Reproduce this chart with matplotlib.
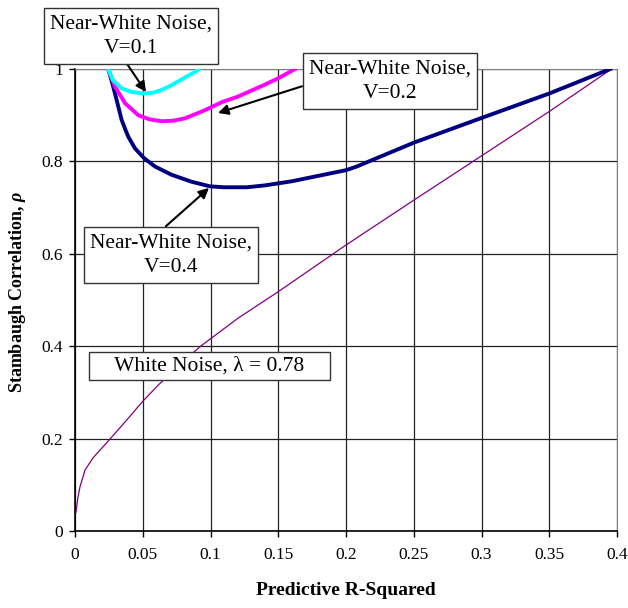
import numpy as np
import matplotlib.pyplot as plt

# Dados
wn_x = [0.0007, 0.002, 0.0037, 0.0074, 0.0135, 0.02, 0.0258, 0.0381, 0.0504, 0.0615, 0.075, 0.0923,
        0.12, 0.15, 0.1906, 0.2, 0.25, 0.3, 0.35, 0.396]
wn_y = [0.04, 0.07, 0.096, 0.132, 0.159, 0.18, 0.199, 0.24, 0.282, 0.316, 0.354, 0.399,
        0.46, 0.518, 0.6, 0.619, 0.716, 0.812, 0.908, 1.0]

v1_x = [0.0245, 0.028, 0.0344, 0.042, 0.0517, 0.058, 0.064, 0.07, 0.076, 0.082, 0.0886, 0.0915]
v1_y = [1.0, 0.976, 0.958, 0.95, 0.947, 0.949, 0.955, 0.963, 0.973, 0.983, 0.994, 1.0]

v2_x = [0.0245, 0.0295, 0.0369, 0.0467, 0.055, 0.064, 0.072, 0.081, 0.096, 0.109, 0.12, 0.13, 0.14, 0.15, 0.1625]
v2_y = [1.0, 0.962, 0.926, 0.90, 0.891, 0.887, 0.888, 0.893, 0.911, 0.929, 0.94, 0.953, 0.966, 0.98, 1.0]

v4_x = [0.0245, 0.027, 0.0295, 0.032, 0.0344, 0.037, 0.0394, 0.0443, 0.051, 0.059, 0.0713, 0.086, 0.0996,
        0.11, 0.1267, 0.14, 0.15, 0.16, 0.17, 0.18, 0.19, 0.2, 0.208, 0.25, 0.3, 0.35, 0.395]
v4_y = [1.0, 0.975, 0.947, 0.918, 0.89, 0.87, 0.853, 0.828, 0.807, 0.789, 0.771, 0.756, 0.746,
        0.744, 0.744, 0.748, 0.7525, 0.757, 0.763, 0.769, 0.775, 0.781, 0.789, 0.8405, 0.894, 0.947, 1.0]

x_ticks = [0, 0.05, 0.1, 0.15, 0.2, 0.25, 0.3, 0.35, 0.4]
x_labels = ['0', '0.05', '0.1', '0.15', '0.2', '0.25', '0.3', '0.35', '0.4']
y_ticks = [0, 0.2, 0.4, 0.6, 0.8, 1.0]
y_labels = ['0', '0.2', '0.4', '0.6', '0.8', '1']

plt.rcParams['font.family'] = ['Liberation Serif', 'DejaVu Serif']
plt.rcParams['mathtext.fontset'] = 'custom'
plt.rcParams['mathtext.rm'] = 'Liberation Serif'
plt.rcParams['mathtext.it'] = 'Liberation Serif:italic'
plt.rcParams['mathtext.bf'] = 'Liberation Serif:italic:bold'

fig = plt.figure(figsize=(6.28, 6.08), dpi=100)
ax = fig.add_axes([75 / 628, 77 / 608, 542 / 628, 462 / 608])

# Curvas
ax.plot(wn_x, wn_y, color='#800080', lw=0.9, zorder=3)
ax.plot(v4_x, v4_y, color='#000080', lw=2.8, zorder=4, solid_joinstyle='round')
ax.plot(v2_x, v2_y, color='#FF00FF', lw=2.8, zorder=4, solid_joinstyle='round')
ax.plot(v1_x, v1_y, color='#00FFFF', lw=2.8, zorder=4, solid_joinstyle='round')

ax.set_xlim(0, 0.4)
ax.set_ylim(0, 1)
ax.set_xticks(x_ticks)
ax.set_xticklabels(x_labels)
ax.set_yticks(y_ticks)
ax.set_yticklabels(y_labels)
ax.tick_params(axis='both', direction='out', length=4.5, width=1, labelsize=12.5, colors='black')
ax.tick_params(axis='x', pad=7)
ax.tick_params(axis='y', pad=4)

ax.grid(True, color='#222222', lw=0.9)
ax.set_axisbelow(True)
for s in ['top', 'right']:
    ax.spines[s].set_color('#808080')
for s in ['left', 'bottom']:
    ax.spines[s].set_color('black')
    ax.spines[s].set_linewidth(1.2)

ax.set_xlabel('Predictive R-Squared', fontsize=14, fontweight='bold')
ax.xaxis.set_label_coords(0.5, -0.11)
ax.set_ylabel(r'Stambaugh Correlation, $\mathbf{\rho}$', fontsize=13, fontweight='bold')
ax.yaxis.set_label_coords(-0.087, 0.517)


def px(x, y):
    # pixels da figura -> coordenadas dos dados
    return ((x - 75) / 1355.0, (531 - y) / 462.0)


box = dict(boxstyle='square,pad=0.3', fc='white', ec='#333333', lw=1)
arrow = dict(arrowstyle='-|>', color='black', lw=1.5, mutation_scale=15, shrinkA=0, shrinkB=0)

ax.annotate('Near-White Noise,\nV=0.1', xy=px(146, 92), xytext=px(131, 36), ha='center', va='center',
            fontsize=15.5, linespacing=1.4, bbox=box, annotation_clip=False, zorder=6,
            arrowprops=dict(arrow, relpos=(0.45, 0.0)))
ax.annotate('Near-White Noise,\nV=0.2', xy=px(218, 113), xytext=px(390, 81), ha='center', va='center',
            fontsize=15.5, linespacing=1.4, bbox=box, annotation_clip=False, zorder=6,
            arrowprops=dict(arrow, relpos=(0.0, 0.43)))
ax.annotate('Near-White Noise,\nV=0.4', xy=px(209, 188), xytext=px(171, 255), ha='center', va='center',
            fontsize=15.5, linespacing=1.4, bbox=box, annotation_clip=False, zorder=6,
            arrowprops=dict(arrow, relpos=(0.42, 1.0)))
ax.text(*px(209.5, 366), '    White Noise, λ = 0.78    ', ha='center', va='center', fontsize=15.5,
        bbox=dict(box, boxstyle='square,pad=0.2'), zorder=6)

fig.savefig('out.png', dpi=100)
